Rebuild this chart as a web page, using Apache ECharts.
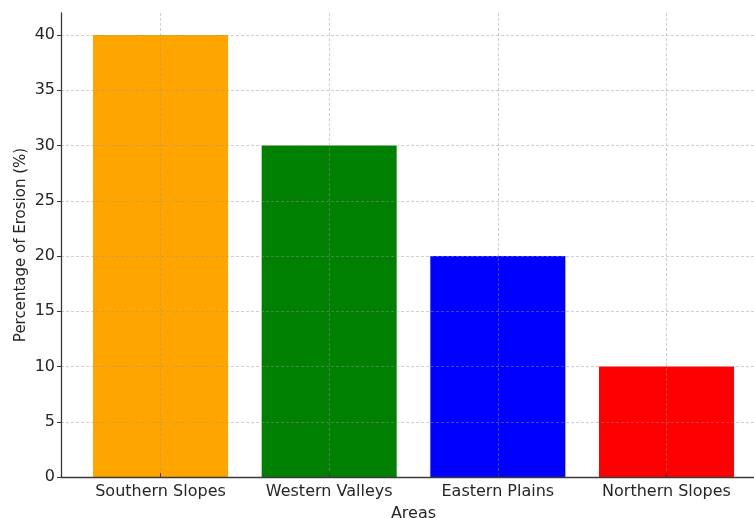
<!DOCTYPE html>
<html>
<head>
<meta charset="utf-8">
<script src="https://cdn.jsdelivr.net/npm/echarts@6/dist/echarts.min.js"></script>
<style>
  html, body { margin: 0; padding: 0; background: #fff; }
  #chart { width: 754px; height: 518px; }
</style>
</head>
<body>
<div id="chart"></div>
<script>
// Erosion share by area
const areas = ['Southern Slopes', 'Western Valleys', 'Eastern Plains', 'Northern Slopes'];
const erosionPct = [40, 30, 20, 10];
const barColors = ['#FFA500', '#008000', '#0000FF', '#FF0000'];
const yTicks = [0, 5, 10, 15, 20, 25, 30, 35, 40];

const positions = areas.map((_, i) => i);
const font = 'DejaVu Sans';
const textColor = '#262626';
const gridLine = { show: true, lineStyle: { color: 'rgba(150,150,150,0.45)', type: [3, 2], width: 1 } };

const chart = echarts.init(document.getElementById('chart'), null, { renderer: 'canvas' });
chart.setOption({
  animation: false,
  backgroundColor: '#fff',
  grid: { left: 61, top: 13, bottom: 41, right: -12, containLabel: false, outerBoundsMode: 'none' },
  xAxis: {
    type: 'value',
    min: -0.59,
    max: 3.59,
    z: 5,
    name: 'Areas',
    nameLocation: 'middle',
    nameGap: 29,
    nameTextStyle: { fontFamily: font, fontSize: 16, color: textColor },
    axisLine: { show: true, onZero: false, lineStyle: { color: '#3a3a3a', width: 1.3 } },
    axisTick: { show: true, inside: true, length: 4, customValues: positions, lineStyle: { color: '#3a3a3a' } },
    axisLabel: {
      customValues: positions,
      formatter: v => areas[Math.round(v)],
      fontFamily: font, fontSize: 16, color: textColor, margin: 7
    },
    splitLine: gridLine
  },
  yAxis: {
    type: 'value',
    min: 0,
    max: 42,
    z: 5,
    name: 'Percentage of Erosion (%)',
    nameLocation: 'middle',
    nameGap: 32,
    nameMoveOverlap: false,
    nameTextStyle: { fontFamily: font, fontSize: 15, color: textColor },
    axisLine: { show: true, onZero: false, lineStyle: { color: '#3a3a3a', width: 1.3 } },
    axisTick: { show: true, length: 4, customValues: yTicks, lineStyle: { color: '#3a3a3a' } },
    axisLabel: { customValues: yTicks, fontFamily: font, fontSize: 16, color: textColor, margin: 6 },
    splitLine: gridLine
  },
  series: [{
    type: 'bar',
    z: 2,
    barWidth: 135,
    data: erosionPct.map((v, i) => ({ value: [positions[i], v], itemStyle: { color: barColors[i] } }))
  }]
});
</script>
</body>
</html>
